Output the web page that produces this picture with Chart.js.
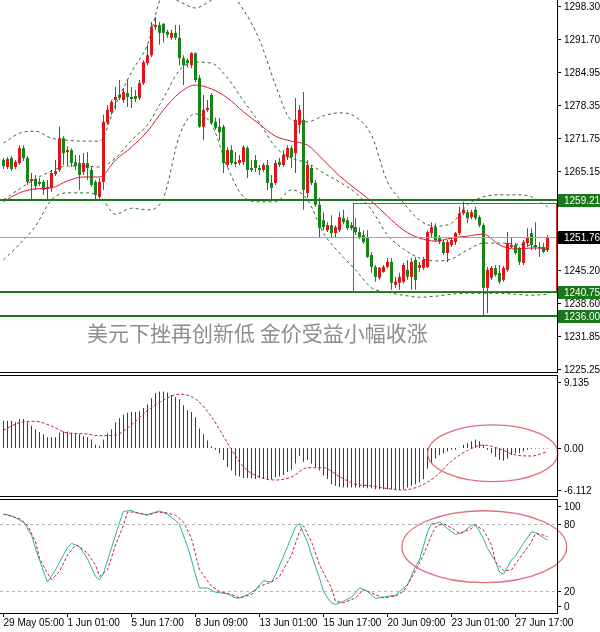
<!DOCTYPE html>
<html>
<head>
<meta charset="utf-8">
<script src="https://cdn.jsdelivr.net/npm/chart.js@4.4.1/dist/chart.umd.min.js"></script>
<style>
  html, body { margin: 0; padding: 0; background: #fff; }
  #wrap { position: relative; width: 600px; height: 632px; overflow: hidden; background: #fff; }
  canvas { position: absolute; left: 0; }
</style>
</head>
<body>
<div id="wrap">
  <canvas id="priceChart" width="600" height="380" style="top:0px"></canvas>
  <canvas id="macdChart" width="600" height="122" style="top:375px"></canvas>
  <canvas id="stochChart" width="600" height="132" style="top:499px"></canvas>
</div>
<script>
// ---- data (4H gold bars) ----
const timeLabels = ['29 May 05:00', '1 Jun 01:00', '5 Jun 17:00', '8 Jun 09:00', '13 Jun 01:00',
                    '15 Jun 17:00', '20 Jun 09:00', '23 Jun 01:00', '27 Jun 17:00'];
const timeTickBars = [0, 16, 32, 48, 64, 80, 96, 112, 128];

const opens = [1267.3,1265.9,1267.7,1265.9,1266.7,1269.7,1267.7,1263.1,1263.5,1262.9,
  1262.9,1261.5,1261.7,1264.5,1265.3,1271.7,1268.9,1269.3,1266.9,1266.7,
  1264.9,1266.7,1265.3,1262.9,1259.9,1262.9,1274.8,1277.0,1279.4,1280.4,
  1279.4,1280.8,1280.0,1280.2,1279.8,1282.8,1286.8,1288.4,1294.1,1294.5,
  1294.7,1293.1,1291.9,1292.9,1291.9,1287.8,1287.4,1286.4,1288.8,1283.8,
  1274.0,1277.4,1280.4,1275.0,1274.0,1274.0,1266.3,1269.3,1266.9,1266.7,
  1266.9,1269.7,1265.7,1267.3,1265.7,1265.3,1266.3,1262.7,1262.7,1266.9,
  1266.3,1267.9,1269.7,1268.7,1274.4,1275.4,1260.7,1265.7,1262.7,1258.3,
  1255.2,1253.2,1254.2,1252.6,1253.2,1255.6,1255.2,1254.2,1253.8,1252.8,
  1252.2,1251.6,1248.2,1245.8,1243.6,1244.8,1245.8,1246.8,1242.2,1242.6,
  1242.8,1245.2,1243.8,1247.2,1245.6,1245.6,1245.8,1252.6,1253.8,1251.6,
  1250.8,1248.6,1250.2,1250.8,1252.6,1256.6,1256.8,1255.8,1257.3,1255.8,
  1254.2,1241.6,1243.6,1245.6,1244.6,1243.2,1245.2,1249.8,1250.2,1249.6,
  1246.6,1250.6,1252.6,1250.2,1249.8,1249.8,1249.2];
const highs = [1267.7,1267.9,1268.1,1267.3,1270.3,1270.3,1268.1,1264.7,1264.3,1263.7,
  1263.3,1263.3,1265.3,1267.3,1274.0,1272.1,1270.1,1269.7,1268.3,1268.3,
  1268.7,1268.9,1265.9,1263.3,1263.7,1276.4,1278.4,1279.4,1282.0,1283.4,
  1281.8,1283.4,1282.0,1281.4,1283.4,1287.4,1290.5,1295.1,1296.1,1295.1,
  1294.9,1293.5,1293.5,1294.5,1294.5,1288.4,1287.8,1289.0,1289.0,1284.4,
  1280.4,1279.4,1280.8,1275.8,1275.8,1274.4,1269.9,1270.3,1268.9,1268.3,
  1270.3,1270.1,1267.3,1268.3,1266.3,1266.7,1267.3,1264.3,1267.3,1267.7,
  1269.3,1270.3,1270.3,1279.8,1278.4,1281.0,1267.3,1266.3,1263.3,1259.7,
  1256.8,1254.8,1256.2,1254.2,1256.8,1257.3,1255.8,1254.8,1255.6,1253.8,
  1253.2,1253.2,1248.8,1246.2,1245.8,1246.2,1247.6,1247.6,1243.8,1244.6,
  1246.6,1247.2,1247.6,1247.8,1246.8,1247.8,1253.2,1254.8,1254.6,1252.2,
  1251.2,1251.2,1251.8,1252.8,1257.9,1258.9,1257.3,1257.3,1257.9,1256.2,
  1254.6,1245.8,1246.0,1246.2,1246.2,1246.0,1252.8,1251.8,1250.6,1249.8,
  1251.2,1253.6,1253.6,1254.8,1250.8,1250.6,1252.2];
const lows = [1265.5,1265.5,1265.1,1265.5,1266.3,1267.1,1262.3,1259.3,1261.3,1262.1,
  1260.3,1259.3,1260.9,1264.1,1264.9,1266.3,1266.3,1265.9,1265.3,1261.3,
  1264.3,1263.3,1261.9,1259.3,1259.5,1261.3,1274.4,1276.4,1277.4,1279.4,
  1278.8,1278.0,1277.8,1279.0,1279.4,1282.4,1286.4,1288.0,1293.5,1290.5,
  1290.9,1291.9,1291.5,1291.5,1286.4,1282.4,1286.0,1285.8,1283.0,1273.8,
  1271.3,1277.0,1274.4,1273.4,1271.3,1264.7,1265.9,1266.3,1265.9,1266.3,
  1266.3,1263.7,1264.9,1264.9,1264.3,1264.9,1261.3,1259.3,1262.3,1265.9,
  1265.9,1267.3,1265.7,1264.7,1272.7,1257.3,1259.7,1262.3,1257.9,1251.6,
  1253.2,1252.8,1251.8,1251.8,1252.8,1254.4,1253.2,1253.2,1252.2,1251.4,
  1250.4,1247.6,1244.6,1242.8,1243.2,1244.6,1245.6,1241.2,1241.6,1241.2,
  1242.4,1243.2,1241.2,1241.2,1244.8,1245.2,1245.6,1251.8,1250.8,1250.4,
  1248.2,1246.8,1249.8,1250.2,1252.2,1256.2,1254.6,1255.4,1255.2,1253.8,
  1236.1,1236.5,1243.2,1243.8,1242.4,1242.8,1244.8,1249.6,1248.2,1246.2,
  1246.2,1249.8,1249.2,1249.2,1247.8,1248.6,1248.8];
const closes = [1266.1,1267.5,1265.5,1266.9,1269.7,1267.7,1262.9,1263.5,1262.1,1262.5,
  1261.3,1261.9,1264.7,1265.1,1271.7,1268.7,1269.3,1266.7,1266.1,1264.3,
  1266.7,1265.7,1262.3,1260.3,1262.9,1275.0,1277.4,1279.0,1280.0,1279.8,
  1281.0,1280.0,1279.6,1279.6,1282.8,1287.0,1288.4,1294.1,1294.5,1292.9,
  1292.9,1292.5,1292.9,1291.9,1287.8,1286.4,1286.8,1288.8,1283.4,1274.0,
  1277.4,1277.8,1274.8,1273.8,1272.9,1266.7,1269.3,1266.7,1266.5,1267.3,
  1269.9,1265.3,1265.3,1265.7,1265.3,1266.3,1262.7,1261.7,1266.7,1266.3,
  1268.3,1269.7,1267.9,1275.4,1277.4,1261.3,1266.3,1262.7,1258.3,1253.6,
  1253.8,1254.2,1252.6,1253.8,1255.8,1254.8,1253.6,1253.6,1252.8,1251.8,
  1250.8,1247.8,1245.8,1243.8,1245.6,1245.8,1246.8,1242.6,1242.8,1243.8,
  1246.2,1243.8,1246.8,1243.2,1246.2,1247.2,1252.8,1253.8,1251.2,1250.8,
  1248.6,1250.8,1251.2,1252.6,1256.6,1257.3,1255.6,1256.8,1255.6,1254.2,
  1241.6,1245.2,1245.6,1244.2,1242.8,1245.6,1250.6,1250.2,1248.6,1246.8,
  1250.8,1251.6,1250.2,1249.8,1249.6,1248.8,1251.8];

// bands and moving average, read every 4th bar
const bandBars = [0,4,8,12,16,20,24,28,32,36,40,44,48,52,56,60,64,68,72,76,
  80,84,88,92,96,100,104,108,112,116,120,124,128,132,136];
const bbUpper = [1270.7,1272.7,1273.1,1271.7,1271.3,1271.1,1271.1,1278.4,1285.0,1290.5,
  1300.5,1299.2,1297.9,1299.5,1301.1,1297.5,1291.5,1282.4,1275.4,1275.0,
  1276.2,1276.8,1276.0,1272.3,1262.9,1258.7,1255.2,1254.0,1254.6,1258.3,
  1259.9,1260.3,1260.3,1259.9,1257.9];
const bbMiddle = [1259.3,1261.5,1263.5,1265.1,1266.1,1266.1,1265.9,1267.7,1271.3,1274.4,
  1279.8,1285.4,1287.0,1286.8,1283.8,1279.2,1274.8,1269.9,1267.7,1266.7,
  1264.7,1262.9,1260.7,1257.3,1252.2,1249.4,1247.6,1247.0,1247.4,1249.2,
  1250.6,1250.6,1250.4,1250.0,1249.2];
const bbLower = [1247.2,1250.4,1254.0,1259.3,1260.7,1260.7,1260.1,1256.4,1257.6,1257.3,
  1259.7,1272.3,1276.6,1274.5,1265.9,1259.9,1258.9,1258.9,1261.3,1259.3,
  1252.6,1248.6,1245.2,1241.6,1240.7,1240.1,1239.7,1239.9,1240.3,1240.5,
  1240.5,1240.5,1240.3,1240.1,1240.3];
const maLine = [1258.9,1260.7,1261.5,1261.7,1263.1,1263.9,1263.9,1267.3,1269.9,1273.1,
  1277.4,1280.8,1282.4,1281.6,1279.8,1277.0,1274.5,1272.1,1271.1,1270.3,
  1267.3,1264.1,1261.5,1259.0,1256.0,1253.2,1251.6,1251.0,1251.6,1252.0,
  1252.4,1250.2,1249.4,1249.6,1249.6];

const macdHist = [3.43,3.43,3.43,3.22,3.65,3.65,3.22,2.79,2.36,2.02,
  1.72,1.37,1.37,1.37,1.93,2.06,2.06,1.93,1.80,1.72,
  1.50,1.37,1.07,0.43,0.30,1.07,1.85,2.36,3.22,3.73,
  4.16,4.42,4.51,4.51,4.59,5.02,5.45,6.22,6.87,7.08,
  7.08,6.95,6.65,6.35,6.09,5.36,4.72,4.51,3.86,2.45,
  1.72,0.94,0.21,-0.21,-0.64,-1.50,-2.36,-2.79,-3.43,-3.56,
  -3.73,-3.73,-3.78,-3.86,-3.78,-3.86,-3.91,-3.91,-3.65,-3.56,
  -3.35,-3.00,-2.70,-1.93,-0.99,-1.72,-1.50,-1.93,-2.36,-2.79,
  -3.43,-3.86,-4.51,-4.72,-4.85,-4.94,-4.94,-4.94,-4.94,-4.94,
  -4.94,-5.02,-5.02,-5.15,-5.15,-5.15,-5.15,-5.15,-5.15,-5.28,
  -5.15,-4.94,-4.72,-4.51,-4.29,-3.86,-2.58,-1.93,-1.29,-0.86,
  -0.64,-0.43,-0.21,-0.21,0.05,0.43,0.64,0.86,1.07,0.86,
  0.43,-0.21,-0.64,-1.07,-1.50,-1.59,-1.29,-0.86,-0.64,-0.64,
  -0.43,-0.21,-0.09,-0.04,-0.04,-0.04,-0.04];
const macdSignal = [2.23,3.18,3.35,2.75,1.89,1.80,1.55,1.63,2.92,4.68,
  6.01,6.74,6.14,3.91,0.64,-2.36,-3.61,-3.99,-3.61,-2.45,
  -2.45,-3.56,-4.51,-4.72,-5.06,-5.24,-4.76,-3.56,-1.63,-0.30,
  0.39,-0.09,-0.86,-0.99,-0.43];

const stochKBars = [0,2,4,5,7,8,10,11,13,14,16,17,19,21,23,24,25,27,29,30,
  32,33,36,38,39,41,43,44,46,47,48,49,51,53,56,58,59,61,63,65,
  67,68,71,73,74,75,76,77,78,79,80,81,82,83,85,87,89,91,93,96,
  98,101,103,104,106,107,108,109,111,113,115,117,118,120,121,123,124,125,127,128,
  130,132,133,136];
const stochK = [88.3,87.1,83.2,81.5,69.7,57.8,37.2,27.7,38.6,45.4,58.4,62.3,59.4,48.4,32.7,29.8,35.7,58.4,80.9,90.9,
  91.8,89.7,88.0,90.3,91.2,88.3,82.9,79.1,59.4,47.5,34.2,22.4,22.4,18.6,17.1,13.5,13.5,16.5,20.9,28.9,
  27.7,34.2,59.4,77.0,80.0,71.1,63.7,51.9,41.6,31.3,19.4,13.5,9.1,7.6,10.6,14.1,22.4,19.4,12.9,15.0,
  15.9,25.3,41.6,47.5,72.6,80.0,80.0,81.5,75.6,70.2,72.6,78.5,79.1,66.7,57.8,46.0,36.6,34.8,47.5,51.3,
  62.3,72.6,72.0,65.2];
const stochDBars = [0,2,4,6,8,9,11,12,14,16,18,19,21,23,24,26,28,30,31,33,
  36,38,40,43,45,47,49,52,54,57,59,62,64,67,69,72,74,75,77,79,
  82,83,85,88,90,93,95,98,100,102,105,107,108,110,113,114,117,118,120,122,
  123,125,127,129,132,133,135,136];
const stochD = [88.6,86.5,84.4,78.5,63.7,49.0,35.7,29.8,37.2,51.9,60.8,59.4,53.4,43.1,32.7,38.6,60.8,78.5,90.3,90.3,
  87.4,89.7,90.3,87.4,81.5,66.7,38.6,23.9,19.4,16.5,13.5,16.5,23.9,27.7,32.7,51.9,72.6,78.0,63.7,43.1,
  22.4,10.6,9.1,13.5,20.9,16.5,13.5,15.0,19.4,31.3,51.9,69.7,77.0,80.0,74.1,71.1,75.6,78.5,74.1,60.8,
  46.0,37.8,38.6,49.0,63.7,71.1,69.7,68.2];

const priceTicks = [1298.30, 1291.70, 1284.95, 1278.35, 1271.75, 1265.15, 1245.20, 1238.60, 1231.85, 1225.25];
const levelPrices = [1259.21, 1240.75, 1236.00];
const lastPrice = 1251.76;
const macdTicks = [9.135, 0, -6.112];
const macdTickText = ['9.135', '0.00', '-6.112'];
const stochTicks = [100, 80, 20, 0];
const stochLevels = [80, 20];
const headline = '美元下挫再创新低 金价受益小幅收涨';

// ---- layout / style ----
const X_MIN = -0.875, X_MAX = 138.375, AXIS_W = 43;
const UP = '#e5121a', DOWN = '#168416', BAND = '#2f6a2f', MA = '#d51a30';
const LEVEL = '#1a781a', BOXRED = '#dc3030', MARK = '#e0707a', HIST = '#006400';
const FONT = '10px "Liberation Sans", Arial, sans-serif';
const rangeBox = { fromBar: 87.45, toBar: 138.2, low: 1240.85, high: 1258.7 };
const headlineAt = { bar: 20.9, price: 1232.5 };
const macdRing = { bar: 122.3, halfBars: 16.25, value: -0.65, halfValue: 3.55 };
const stochRing = { bar: 120.2, halfBars: 20.6, value: 59.3, halfValue: 32.2 };

Chart.defaults.font.family = '"Liberation Sans", Arial, sans-serif';

function xAxis(display) {
  return { type: 'linear', min: X_MIN, max: X_MAX, offset: false, display, grid: { display: false } };
}
function yAxis(min, max) {
  return {
    position: 'right', min, max, beginAtZero: false,
    ticks: { display: false }, grid: { display: false }, border: { display: false },
    afterFit(s) { s.width = AXIS_W; s.paddingTop = 0; s.paddingBottom = 0; }
  };
}
function hline(ctx, x0, y, x1) {
  ctx.beginPath(); ctx.moveTo(x0, y); ctx.lineTo(x1, y); ctx.stroke();
}
function lineSet(xs, ys, color, dash, smooth) {
  return {
    type: 'line', data: xs.map((b, i) => ({ x: b, y: ys[i] })),
    borderColor: color, borderWidth: 1, borderDash: dash || [], pointRadius: 0,
    cubicInterpolationMode: smooth ? 'monotone' : 'default', tension: 0, order: 1
  };
}

// labels on the right axis, optionally boxed, clamped into the panel
function sideLabels(chart, items, pad) {
  const { ctx, chartArea: a, scales: { y } } = chart;
  ctx.save();
  ctx.font = FONT; ctx.textBaseline = 'middle'; ctx.textAlign = 'left';
  ctx.lineWidth = 1;
  items.forEach(it => {
    let py = y.getPixelForValue(it.v);
    if (pad) py = Math.min(Math.max(py, a.top + pad), a.bottom - pad);
    py = Math.round(py);
    ctx.strokeStyle = '#000';
    hline(ctx, a.right, py + 0.5, a.right + 4);
    if (it.box) {
      ctx.fillStyle = it.box;
      ctx.fillRect(a.right + 1, py - 6, AXIS_W - 1, 13);
      ctx.fillStyle = '#fff';
    } else {
      ctx.fillStyle = '#000';
    }
    ctx.fillText(it.text, a.right + 7, py + 1);
  });
  ctx.strokeStyle = '#000';
  ctx.beginPath(); ctx.moveTo(a.right + 0.5, a.top); ctx.lineTo(a.right + 0.5, a.bottom); ctx.stroke();
  ctx.restore();
}

function ring(chart, r) {
  const { ctx, scales: { x, y } } = chart;
  const cx = x.getPixelForValue(r.bar), cy = y.getPixelForValue(r.value);
  const rx = x.getPixelForValue(r.bar + r.halfBars) - cx;
  const ry = Math.abs(y.getPixelForValue(r.value + r.halfValue) - cy);
  ctx.save();
  ctx.strokeStyle = MARK; ctx.lineWidth = 1.3;
  ctx.beginPath(); ctx.ellipse(cx, cy, rx, ry, 0, 0, Math.PI * 2); ctx.stroke();
  ctx.restore();
}

function decor(id, over, under) {
  return {
    id,
    beforeDatasetsDraw(chart) { if (under) under(chart); },
    afterDatasetsDraw(chart) { over(chart); }
  };
}

const baseOptions = {
  responsive: false, animation: false, events: [],
  plugins: { legend: { display: false }, tooltip: { enabled: false } }
};

// ---- price panel ----
const bars = opens.map((_, i) => i);
const candleColors = bars.map(i => closes[i] >= opens[i] ? UP : DOWN);

new Chart(document.getElementById('priceChart'), {
  type: 'bar',
  data: {
    datasets: [
      lineSet(bandBars, maLine, MA, null, true),
      lineSet(bandBars, bbUpper, BAND, [3, 3], true),
      lineSet(bandBars, bbMiddle, BAND, [3, 3], true),
      lineSet(bandBars, bbLower, BAND, [3, 3], true),
      {
        type: 'bar', data: bars.map(i => ({ x: i, y: [opens[i], closes[i]] })),
        backgroundColor: candleColors, grouped: false, barThickness: 3, maxBarThickness: 3,
        inflateAmount: 0, borderWidth: 0, order: 4
      },
      {
        type: 'bar', data: bars.map(i => ({ x: i, y: [lows[i], highs[i]] })),
        backgroundColor: candleColors, grouped: false, barThickness: 1, maxBarThickness: 1,
        inflateAmount: 0, borderWidth: 0, order: 5
      }
    ]
  },
  options: {
    ...baseOptions,
    layout: { padding: { left: 0, right: 0, top: 0, bottom: 8 } },
    scales: { x: xAxis(false), y: yAxis(1224.65, 1299.51) }
  },
  plugins: [decor('priceDecor', chart => {
    const { ctx, chartArea: a, scales: { x, y } } = chart;
    ctx.save();
    ctx.strokeStyle = '#a3a3a3'; ctx.lineWidth = 1;
    hline(ctx, a.left, Math.round(y.getPixelForValue(lastPrice)) + 0.5, a.right);
    ctx.strokeStyle = LEVEL; ctx.lineWidth = 2;
    levelPrices.forEach(p => hline(ctx, a.left, Math.round(y.getPixelForValue(p)), a.right));
    ctx.strokeStyle = BOXRED; ctx.lineWidth = 1;
    const bx0 = Math.round(x.getPixelForValue(rangeBox.fromBar)) + 0.5;
    const bx1 = Math.round(x.getPixelForValue(rangeBox.toBar)) + 0.5;
    const by0 = Math.round(y.getPixelForValue(rangeBox.high)) + 0.5;
    const by1 = Math.round(y.getPixelForValue(rangeBox.low)) + 0.5;
    ctx.strokeRect(bx0, by0, bx1 - bx0, by1 - by0);
    ctx.fillStyle = '#8e8e8e';
    ctx.font = '21px "Noto Sans CJK SC", sans-serif';
    ctx.textBaseline = 'middle'; ctx.textAlign = 'left';
    ctx.fillText(headline, x.getPixelForValue(headlineAt.bar), y.getPixelForValue(headlineAt.price));
    ctx.strokeStyle = '#000'; ctx.lineWidth = 1;
    hline(ctx, 0, a.bottom + 0.5, a.right + 1);
    ctx.restore();
    const items = priceTicks.map(v => ({ v, text: v.toFixed(2) }))
      .concat(levelPrices.map(v => ({ v, text: v.toFixed(2), box: LEVEL })))
      .concat([{ v: lastPrice, text: lastPrice.toFixed(2), box: '#000' }]);
    sideLabels(chart, items, 0);
  })]
});

// ---- MACD panel ----
new Chart(document.getElementById('macdChart'), {
  type: 'bar',
  data: {
    datasets: [
      lineSet(bandBars, macdSignal, '#c8203a', [3, 2], true),
      {
        type: 'bar', data: macdHist.map((v, i) => ({ x: i, y: v })),
        backgroundColor: HIST, grouped: false, barThickness: 1, maxBarThickness: 1,
        inflateAmount: 0, borderWidth: 0, order: 3
      }
    ]
  },
  options: {
    ...baseOptions,
    layout: { padding: 0 },
    scales: { x: xAxis(false), y: yAxis(-6.112, 9.135) }
  },
  plugins: [decor('macdDecor', chart => {
    const { ctx, chartArea: a } = chart;
    ring(chart, macdRing);
    ctx.save();
    ctx.strokeStyle = '#000'; ctx.lineWidth = 1;
    hline(ctx, 0, a.top + 0.5, a.right + 1);
    hline(ctx, 0, a.bottom - 0.5, a.right + 1);
    ctx.restore();
    sideLabels(chart, macdTicks.map((v, i) => ({ v, text: macdTickText[i] })), 7);
  })]
});

// ---- Stochastic panel with time axis ----
new Chart(document.getElementById('stochChart'), {
  type: 'line',
  data: {
    datasets: [
      lineSet(stochDBars, stochD, '#c8203a', [3, 2], false),
      lineSet(stochKBars, stochK, '#2aaea6', null, false)
    ]
  },
  options: {
    ...baseOptions,
    layout: { padding: 0 },
    scales: {
      x: {
        type: 'linear', min: X_MIN, max: X_MAX, offset: false, position: 'bottom',
        afterBuildTicks(s) { s.ticks = timeTickBars.map(v => ({ value: v })); },
        afterFit(s) { s.height = 18; s.paddingLeft = 0; s.paddingRight = 0; },
        ticks: {
          autoSkip: false, maxRotation: 0, minRotation: 0, align: 'start', padding: 0,
          color: '#000', font: { size: 10 },
          callback: (v, i) => timeLabels[i]
        },
        grid: { drawOnChartArea: false, drawTicks: true, tickLength: 4, color: '#000' },
        border: { display: true, color: '#000' }
      },
      y: yAxis(0, 102)
    }
  },
  plugins: [decor('stochDecor', chart => {
    const { ctx, chartArea: a } = chart;
    ring(chart, stochRing);
    ctx.save();
    ctx.strokeStyle = '#000'; ctx.lineWidth = 1;
    hline(ctx, 0, a.top + 0.5, a.right + 1);
    ctx.restore();
    sideLabels(chart, stochTicks.map(v => ({ v, text: String(v) })), 7);
  }, chart => {
    const { ctx, chartArea: a, scales: { y } } = chart;
    ctx.save();
    ctx.strokeStyle = '#b5b5b5'; ctx.lineWidth = 1; ctx.setLineDash([3, 3]);
    stochLevels.forEach(v => hline(ctx, a.left, Math.round(y.getPixelForValue(v)) + 0.5, a.right));
    ctx.restore();
  })]
});
</script>
</body>
</html>
